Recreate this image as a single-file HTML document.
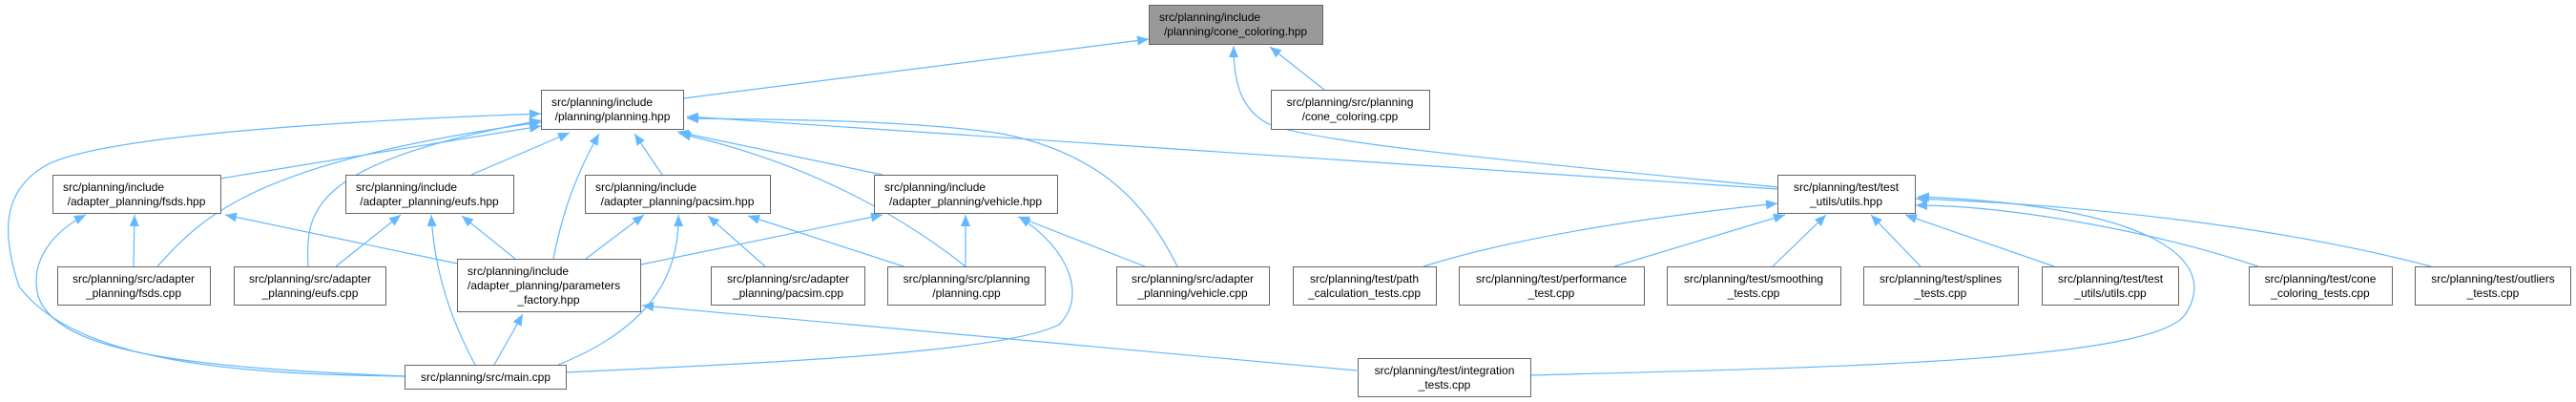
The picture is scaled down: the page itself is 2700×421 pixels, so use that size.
<!DOCTYPE html>
<html><head><meta charset="utf-8"><style>
html,body{margin:0;padding:0;background:#fff;width:2700px;height:421px;overflow:hidden}
svg{display:block}
text{font-family:"Liberation Sans",Arial,sans-serif;font-size:12px;fill:#000}
.b{fill:#fff;stroke:#666;stroke-width:1}
.e{fill:none;stroke:#63b8ff;stroke-width:1.2}
</style></head><body>
<svg width="2700" height="421" viewBox="0 0 2700 421" xmlns="http://www.w3.org/2000/svg">
<defs>
<marker id="a" markerUnits="userSpaceOnUse" markerWidth="14" markerHeight="12" refX="12" refY="5" orient="auto">
<path d="M0,0 L12,5 L0,10 Z" fill="#63b8ff"/>
</marker>
</defs>
<g class="e" marker-end="url(#a)">
<!-- to cone_coloring.hpp -->
<path d="M716,103 L1204,41"/>
<path d="M1388,94 L1331,49"/>
<path d="M1863,196 C1600,170 1380,150 1330,130 C1300,115 1293,85 1293,48"/>
<!-- to planning.hpp -->
<path d="M1863,198 L720,122"/>
<path d="M231,187 L567,132"/>
<path d="M494,183 L597,139"/>
<path d="M694,183 L665,140"/>
<path d="M925,183 L710,138"/>
<path d="M580,271 C590,220 605,180 628,140"/>
<path d="M165,279 C210,230 260,170 567,128"/>
<path d="M323,279 C320,220 325,170 567,126"/>
<path d="M424,394 C250,392 80,380 20,300 C0,240 5,200 45,175 C100,140 400,125 567,119"/>
<path d="M1012,279 C950,230 850,170 712,140"/>
<path d="M1234,279 C1200,210 1150,160 1050,140 C950,125 800,125 720,124"/>
<!-- to fsds.hpp -->
<path d="M479,276 L236,225"/>
<path d="M140,279 L141,225"/>
<path d="M424,394 C200,385 60,370 40,310 C30,270 60,240 90,225"/>
<!-- to eufs.hpp -->
<path d="M352,279 L420,225"/>
<path d="M540,271 L484,226"/>
<path d="M498,382 C470,330 455,280 452,225"/>
<!-- to pacsim.hpp -->
<path d="M614,271 L675,225"/>
<path d="M802,279 L742,226"/>
<path d="M585,382 C690,340 712,280 711,225"/>
<path d="M947,279 L784,226"/>
<!-- to vehicle.hpp -->
<path d="M672,277 L925,225"/>
<path d="M1012,279 L1012,225"/>
<path d="M1200,279 L1067,227"/>
<path d="M593,390 C800,380 1050,370 1110,340 C1140,310 1120,260 1068,227"/>
<!-- to params -->
<path d="M518,382 L548,329"/>
<path d="M1422,388 L673,320"/>
<!-- to utils.hpp -->
<path d="M1604,393 C1900,385 2250,380 2290,330 C2330,270 2250,215 2010,206"/>
<path d="M1492,279 C1600,245 1750,225 1863,213"/>
<path d="M1692,279 L1871,225"/>
<path d="M1858,279 L1914,225"/>
<path d="M2013,279 L1961,225"/>
<path d="M2153,279 L1997,225"/>
<path d="M2367,279 C2250,240 2100,215 2008,215"/>
<path d="M2548,279 C2400,240 2200,215 2008,208"/>
</g>

<!-- nodes -->
<rect x="1204.5" y="5.5" width="182" height="41" fill="#999" stroke="#666"/>
<text x="1215" y="22">src/planning/include</text>
<text x="1295" y="37" text-anchor="middle">/planning/cone_coloring.hpp</text>

<rect class="b" x="567.5" y="94.5" width="149" height="41"/>
<text x="578" y="111">src/planning/include</text>
<text x="642" y="126" text-anchor="middle">/planning/planning.hpp</text>

<rect class="b" x="1332.5" y="94.5" width="166" height="41"/>
<text x="1415" y="111" text-anchor="middle">src/planning/src/planning</text>
<text x="1415" y="126" text-anchor="middle">/cone_coloring.cpp</text>

<rect class="b" x="55.5" y="183.5" width="176" height="40"/>
<text x="66" y="200">src/planning/include</text>
<text x="143" y="215" text-anchor="middle">/adapter_planning/fsds.hpp</text>

<rect class="b" x="362.5" y="183.5" width="176" height="40"/>
<text x="373" y="200">src/planning/include</text>
<text x="450" y="215" text-anchor="middle">/adapter_planning/eufs.hpp</text>

<rect class="b" x="613.5" y="183.5" width="194" height="40"/>
<text x="624" y="200">src/planning/include</text>
<text x="710" y="215" text-anchor="middle">/adapter_planning/pacsim.hpp</text>

<rect class="b" x="916.5" y="183.5" width="192" height="40"/>
<text x="927" y="200">src/planning/include</text>
<text x="1012" y="215" text-anchor="middle">/adapter_planning/vehicle.hpp</text>

<rect class="b" x="1863.5" y="183.5" width="144" height="40"/>
<text x="1935" y="200" text-anchor="middle">src/planning/test/test</text>
<text x="1935" y="215" text-anchor="middle">_utils/utils.hpp</text>

<rect class="b" x="479.5" y="271.5" width="192" height="55"/>
<text x="490" y="288">src/planning/include</text>
<text x="490" y="303">/adapter_planning/parameters</text>
<text x="575" y="318" text-anchor="middle">_factory.hpp</text>

<rect class="b" x="60.5" y="279.5" width="160" height="40"/>
<text x="140" y="296" text-anchor="middle">src/planning/src/adapter</text>
<text x="140" y="311" text-anchor="middle">_planning/fsds.cpp</text>

<rect class="b" x="245.5" y="279.5" width="159" height="40"/>
<text x="325" y="296" text-anchor="middle">src/planning/src/adapter</text>
<text x="325" y="311" text-anchor="middle">_planning/eufs.cpp</text>

<rect class="b" x="745.5" y="279.5" width="161" height="40"/>
<text x="826" y="296" text-anchor="middle">src/planning/src/adapter</text>
<text x="826" y="311" text-anchor="middle">_planning/pacsim.cpp</text>

<rect class="b" x="930.5" y="279.5" width="165" height="40"/>
<text x="1013" y="296" text-anchor="middle">src/planning/src/planning</text>
<text x="1013" y="311" text-anchor="middle">/planning.cpp</text>

<rect class="b" x="1170.5" y="279.5" width="160" height="40"/>
<text x="1250" y="296" text-anchor="middle">src/planning/src/adapter</text>
<text x="1250" y="311" text-anchor="middle">_planning/vehicle.cpp</text>

<rect class="b" x="1355.5" y="279.5" width="150" height="40"/>
<text x="1430" y="296" text-anchor="middle">src/planning/test/path</text>
<text x="1430" y="311" text-anchor="middle">_calculation_tests.cpp</text>

<rect class="b" x="1529.5" y="279.5" width="194" height="40"/>
<text x="1626" y="296" text-anchor="middle">src/planning/test/performance</text>
<text x="1626" y="311" text-anchor="middle">_test.cpp</text>

<rect class="b" x="1747.5" y="279.5" width="182" height="40"/>
<text x="1838" y="296" text-anchor="middle">src/planning/test/smoothing</text>
<text x="1838" y="311" text-anchor="middle">_tests.cpp</text>

<rect class="b" x="1953.5" y="279.5" width="162" height="40"/>
<text x="2034" y="296" text-anchor="middle">src/planning/test/splines</text>
<text x="2034" y="311" text-anchor="middle">_tests.cpp</text>

<rect class="b" x="2140.5" y="279.5" width="143" height="40"/>
<text x="2212" y="296" text-anchor="middle">src/planning/test/test</text>
<text x="2212" y="311" text-anchor="middle">_utils/utils.cpp</text>

<rect class="b" x="2357.5" y="279.5" width="150" height="40"/>
<text x="2432" y="296" text-anchor="middle">src/planning/test/cone</text>
<text x="2432" y="311" text-anchor="middle">_coloring_tests.cpp</text>

<rect class="b" x="2531.5" y="279.5" width="163" height="40"/>
<text x="2613" y="296" text-anchor="middle">src/planning/test/outliers</text>
<text x="2613" y="311" text-anchor="middle">_tests.cpp</text>

<rect class="b" x="424.5" y="382.5" width="169" height="25"/>
<text x="509" y="399" text-anchor="middle">src/planning/src/main.cpp</text>

<rect class="b" x="1423.5" y="375.5" width="181" height="40"/>
<text x="1514" y="392" text-anchor="middle">src/planning/test/integration</text>
<text x="1514" y="407" text-anchor="middle">_tests.cpp</text>
</svg>
</body></html>
